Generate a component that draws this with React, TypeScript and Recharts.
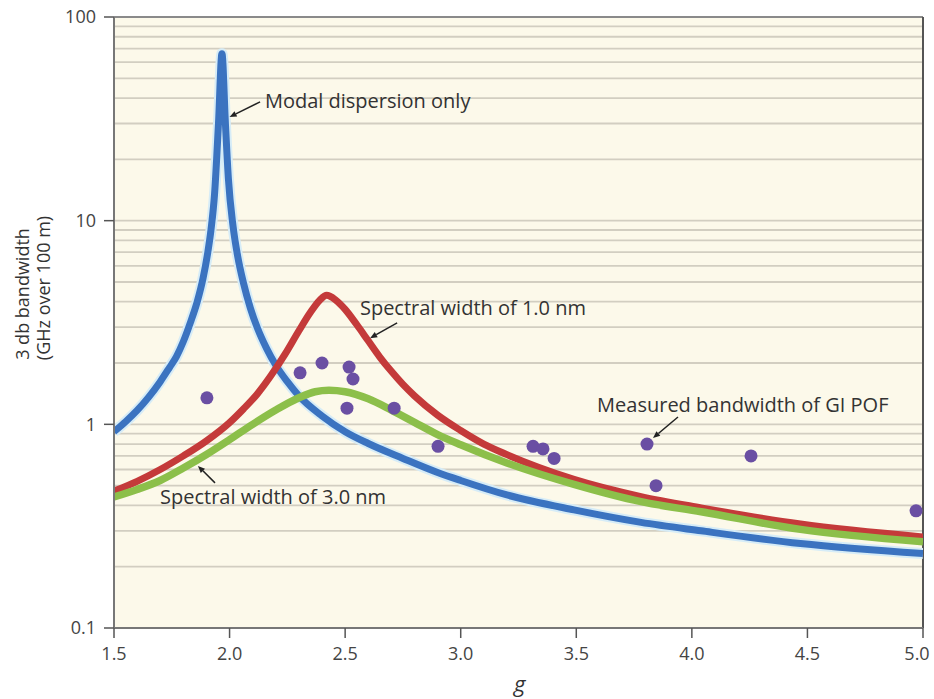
import React from 'react';
import {
  ComposedChart,
  Line,
  Scatter,
  XAxis,
  YAxis,
  ReferenceLine,
  ReferenceArea,
  ReferenceDot,
} from 'recharts';

// ---- Data ----
const modalG = [1.5, 1.55, 1.6, 1.65, 1.7, 1.74, 1.77, 1.8, 1.83, 1.86, 1.885, 1.905, 1.92, 1.935, 1.952, 1.967, 1.982, 1.995, 2.015, 2.035, 2.06, 2.09, 2.12, 2.16, 2.2, 2.25, 2.3, 2.4, 2.5, 2.6, 2.75, 2.9, 3.0, 3.2, 3.49, 3.78, 4.04, 4.47, 5.0];
const modalV = [0.92, 1.03, 1.17, 1.36, 1.62, 1.9, 2.15, 2.55, 3.15, 4.0, 5.2, 6.9, 9.1, 13.5, 30, 66, 30, 16, 9.4, 6.7, 4.95, 3.72, 2.98, 2.36, 1.95, 1.62, 1.38, 1.1, 0.92, 0.805, 0.68, 0.58, 0.53, 0.45, 0.38, 0.33, 0.3, 0.26, 0.232];

const spec1G = [1.5, 1.6, 1.7, 1.8, 1.9, 2.0, 2.06, 2.12, 2.18, 2.24, 2.3, 2.35, 2.39, 2.42, 2.46, 2.5, 2.55, 2.6, 2.65, 2.7, 2.75, 2.8, 2.9, 3.0, 3.1, 3.2, 3.49, 3.78, 4.04, 4.47, 5.0];
const spec1V = [0.47, 0.525, 0.6, 0.7, 0.83, 1.02, 1.19, 1.41, 1.74, 2.21, 2.88, 3.55, 4.07, 4.3, 4.07, 3.67, 3.09, 2.57, 2.14, 1.82, 1.57, 1.38, 1.11, 0.933, 0.8, 0.71, 0.537, 0.442, 0.389, 0.324, 0.28];

const spec3G = [1.5, 1.6, 1.7, 1.8, 1.9, 2.0, 2.1, 2.2, 2.3, 2.37, 2.43, 2.5, 2.6, 2.7, 2.8, 2.9, 3.0, 3.2, 3.49, 3.78, 4.04, 4.47, 5.0];
const spec3V = [0.44, 0.479, 0.53, 0.61, 0.711, 0.841, 1.0, 1.175, 1.35, 1.445, 1.469, 1.445, 1.334, 1.175, 1.023, 0.891, 0.794, 0.646, 0.507, 0.417, 0.372, 0.305, 0.265];

const measuredG = [1.902, 2.305, 2.4, 2.517, 2.534, 2.508, 2.712, 2.902, 3.313, 3.356, 3.404, 3.806, 3.845, 4.256, 4.97];
const measuredV = [1.35, 1.79, 2.0, 1.91, 1.67, 1.2, 1.2, 0.78, 0.78, 0.757, 0.68, 0.8, 0.5, 0.7, 0.376];

const xTicks = [1.5, 2.0, 2.5, 3.0, 3.5, 4.0, 4.5, 5.0];
const yTicks = [0.1, 1, 10, 100];
const gridValues = [0.2, 0.3, 0.4, 0.5, 0.6, 0.7, 0.8, 0.9, 1, 2, 3, 4, 5, 6, 7, 8, 9, 10, 20, 30, 40, 50, 60, 70, 80, 90];

// annotation texts and arrows [text, textG, textV, arrowFromG, arrowFromV, arrowToG, arrowToV]
const annotations: [string, number, number, number, number, number, number][] = [
  ['Modal dispersion only', 2.153, 39.1, 2.132, 38.3, 2.0, 32.3],
  ['Spectral width of 1.0 nm', 2.564, 3.73, 2.725, 3.15, 2.608, 2.65],
  ['Spectral width of 3.0 nm', 1.699, 0.44, 1.937, 0.516, 1.863, 0.625],
  ['Measured bandwidth of GI POF', 3.59, 1.245, 3.94, 1.087, 3.832, 0.857],
];

const toData = (g: number[], v: number[]) => g.map((x, i) => ({ g: x, v: v[i] }));
const modalData = toData(modalG, modalV);
const spec1Data = toData(spec1G, spec1V);
const spec3Data = toData(spec3G, spec3V);
const measuredData = toData(measuredG, measuredV);

const FONT = '"Open Sans", "Noto Sans", sans-serif';

const Dot = (p: any) => <circle cx={p.cx} cy={p.cy} r={6.5} fill="#6a4fa3" />;

const makeText = (t: string) => (p: any) => (
  <text x={p.cx} y={p.cy} dominantBaseline="central" fontSize={20} fontFamily={FONT} fill="#333">
    {t}
  </text>
);

const XTick = (p: any) => {
  const v = p.payload.value as number;
  const dx = v >= 5 ? -6 : 0;
  return (
    <text x={p.x + dx} y={p.y} dy="0.71em" textAnchor="middle" fill="#444" fontSize={18} fontFamily={FONT}>
      {v.toFixed(1)}
    </text>
  );
};

const Arrow = (p: any) => {
  const { x1, y1, x2, y2 } = p;
  const dx = x2 - x1;
  const dy = y2 - y1;
  const len = Math.sqrt(dx * dx + dy * dy) || 1;
  const ux = dx / len;
  const uy = dy / len;
  const hl = 7;
  const hw = 3;
  const bx = x2 - ux * hl;
  const by = y2 - uy * hl;
  return (
    <g>
      <line x1={x1} y1={y1} x2={bx} y2={by} stroke="#222" strokeWidth={1.5} />
      <polygon
        points={`${x2},${y2} ${bx - uy * hw},${by + ux * hw} ${bx + uy * hw},${by - ux * hw}`}
        fill="#222"
      />
    </g>
  );
};

export default function App() {
  return (
    <div style={{ position: 'absolute', left: 0, top: 0, width: 934, height: 699, background: '#fff' }}>
      <ComposedChart width={934} height={699} margin={{ top: 17, right: 11, bottom: 41, left: 0 }}>
        <XAxis
          dataKey="g"
          type="number"
          domain={[1.5, 5]}
          allowDataOverflow
          ticks={xTicks}
          interval={0}
          height={30}
          tickSize={10}
          tickMargin={9}
          axisLine={{ stroke: '#777', strokeWidth: 2 }}
          tickLine={{ stroke: '#555', strokeWidth: 1.5 }}
          tick={XTick}
        />
        <YAxis
          dataKey="v"
          type="number"
          scale="log"
          domain={[0.1, 100]}
          allowDataOverflow
          ticks={yTicks}
          interval={0}
          tickFormatter={(v: number) => String(v)}
          width={114}
          tickSize={10}
          tickMargin={8}
          axisLine={{ stroke: '#777', strokeWidth: 2 }}
          tickLine={{ stroke: '#555', strokeWidth: 1.5 }}
          tick={{ fill: '#444', fontSize: 18, fontFamily: FONT }}
          label={{
            content: () => (
              <g fontFamily={FONT} fontSize={18} fill="#333">
                <text x={22} y={294} textAnchor="middle" dominantBaseline="central" transform="rotate(-90 22 294)">
                  3 db bandwidth
                </text>
                <text x={43} y={288} textAnchor="middle" dominantBaseline="central" transform="rotate(-90 43 288)">
                  (GHz over 100 m)
                </text>
              </g>
            ),
          }}
        />
        <ReferenceArea x1={1.5} x2={5} y1={0.1} y2={100} fill="#fcf9ea" fillOpacity={1} stroke="none" zIndex={-200} />
        {gridValues.map((v) => (
          <ReferenceLine key={'g' + v} y={v} stroke="#d2cec1" strokeWidth={1.8} zIndex={-150} />
        ))}
        <ReferenceLine y={100} stroke="#8a8a8a" strokeWidth={2} zIndex={-100} />
        <ReferenceLine x={5} stroke="#555" strokeWidth={2} zIndex={-100} />

        <Line data={modalData} dataKey="v" type="monotone" stroke="#d6ecf7" strokeWidth={11} dot={false} isAnimationActive={false} strokeLinejoin="round" />
        <Line data={modalData} dataKey="v" type="monotone" stroke="#3b73c0" strokeWidth={7} dot={false} isAnimationActive={false} strokeLinejoin="round" />
        <Line data={spec1Data} dataKey="v" type="monotone" stroke="#c43a3a" strokeWidth={7} dot={false} isAnimationActive={false} />
        <Line data={spec3Data} dataKey="v" type="monotone" stroke="#8cbf4a" strokeWidth={7.5} dot={false} isAnimationActive={false} />
        <Scatter data={measuredData} dataKey="v" shape={Dot} isAnimationActive={false} />

        {annotations.map((a) => (
          <ReferenceLine
            key={'a' + a[0]}
            segment={[{ x: a[3], y: a[4] }, { x: a[5], y: a[6] }]}
            shape={Arrow}
            zIndex={2100}
          />
        ))}
        {annotations.map((a) => (
          <ReferenceDot key={'t' + a[0]} x={a[1]} y={a[2]} r={0} shape={makeText(a[0])} zIndex={2100} />
        ))}
      </ComposedChart>
      <div
        style={{
          position: 'absolute',
          left: 514,
          top: 668,
          fontFamily: FONT,
          fontStyle: 'italic',
          fontSize: 22,
          color: '#333',
        }}
      >
        g
      </div>
    </div>
  );
}
